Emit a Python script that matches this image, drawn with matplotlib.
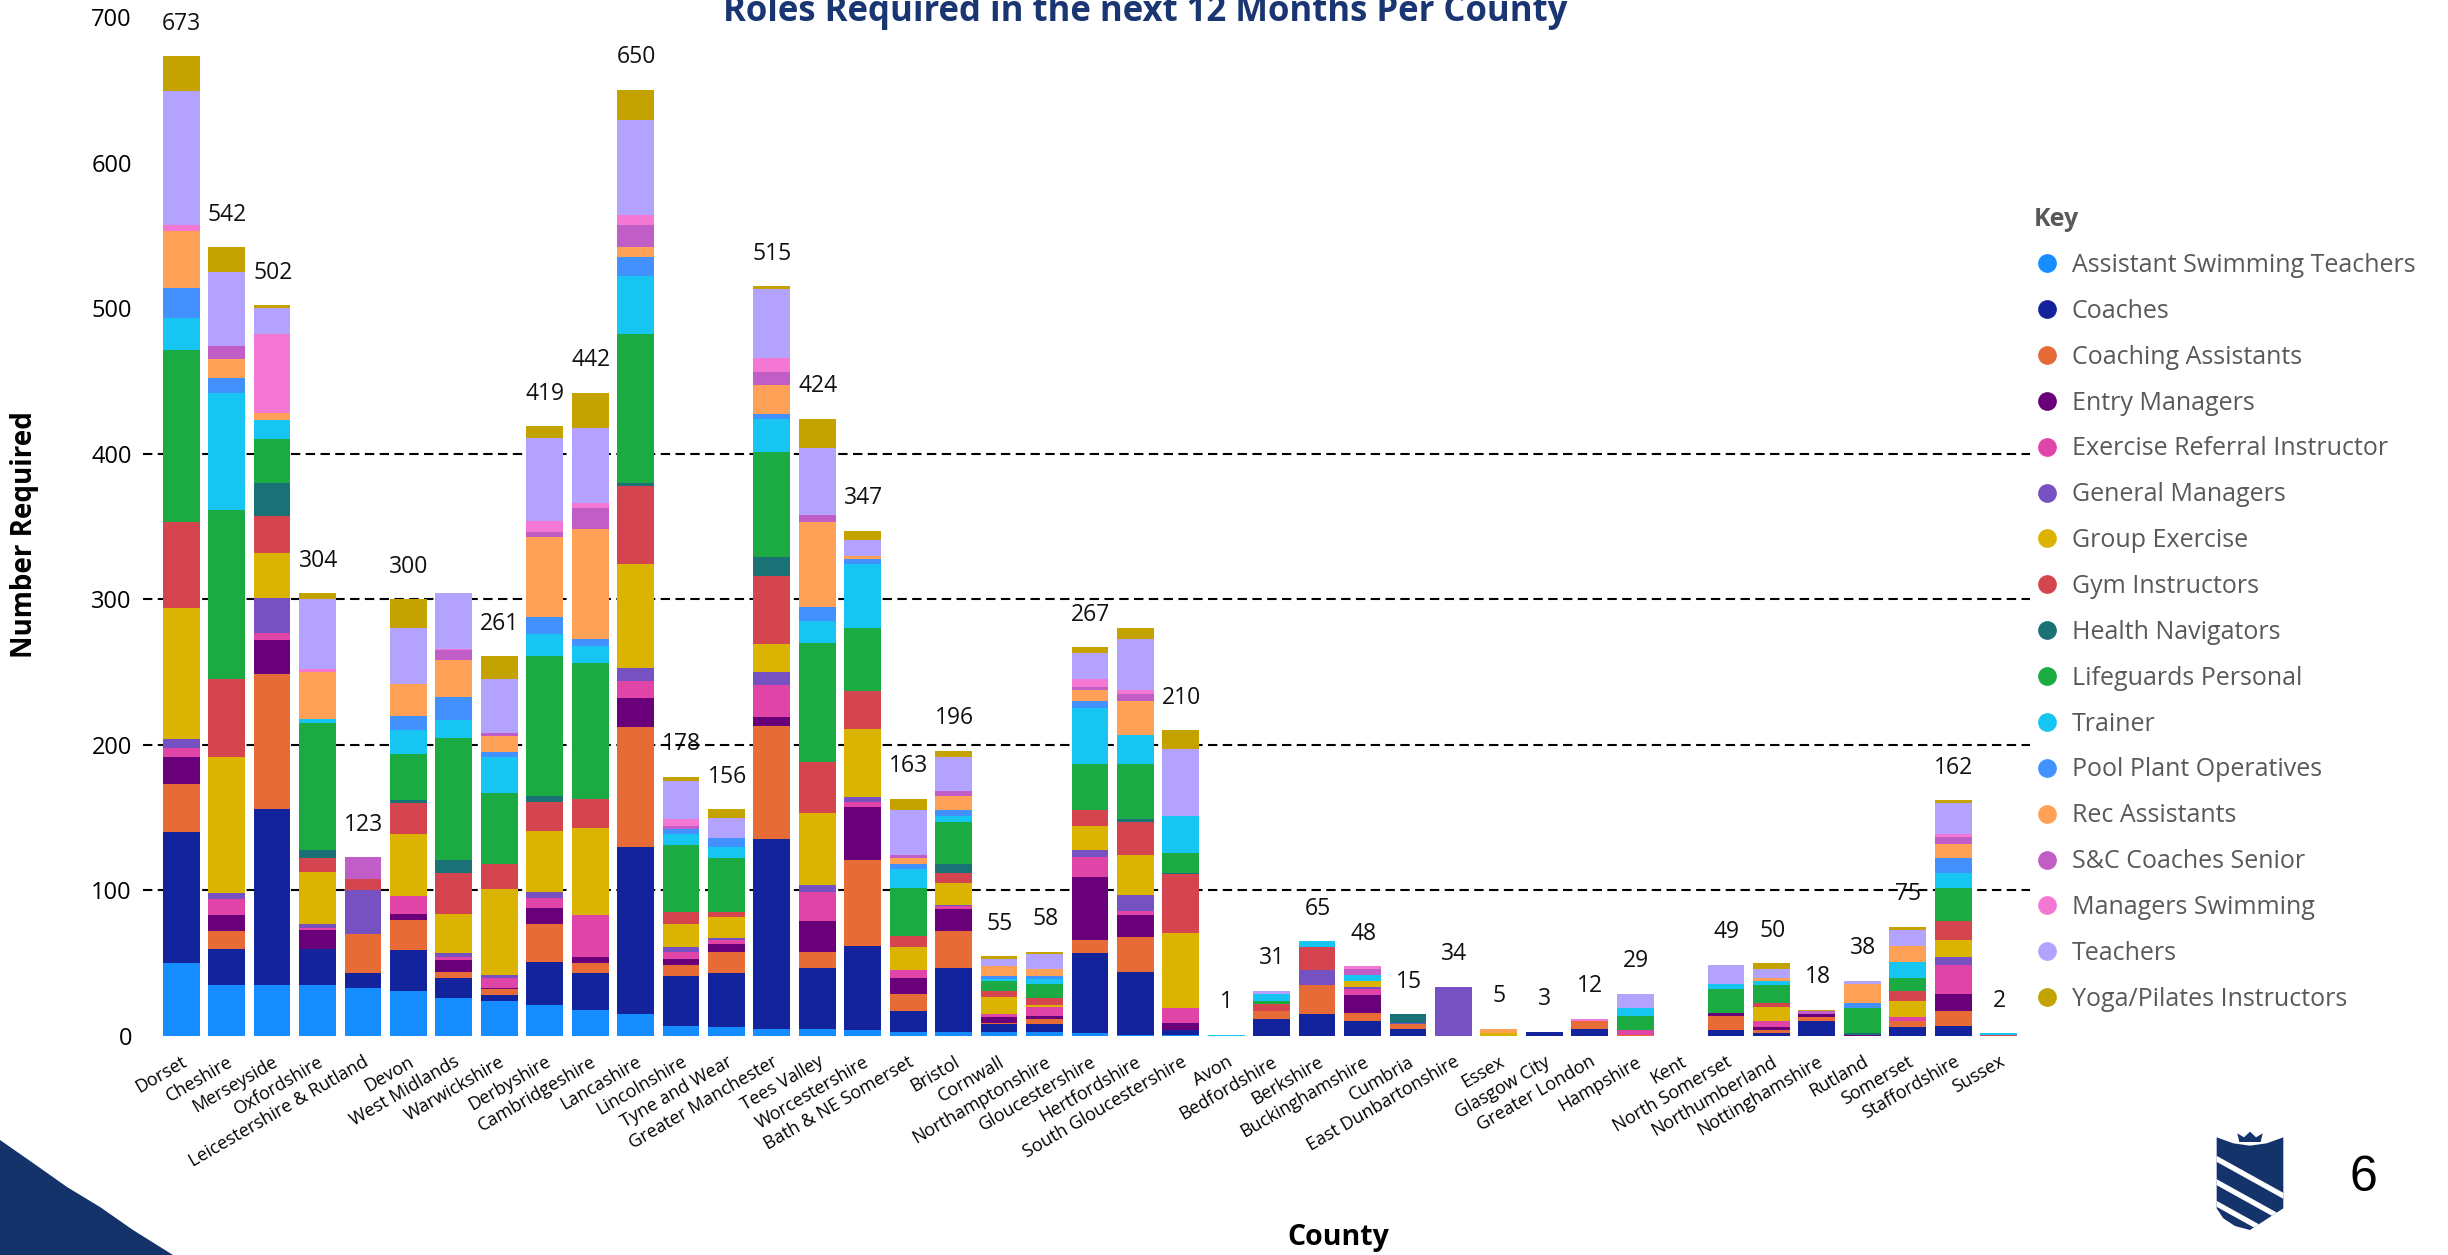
import matplotlib
matplotlib.use("Agg")
import matplotlib.pyplot as plt
import numpy as np
from matplotlib.lines import Line2D
from matplotlib.patches import Polygon, PathPatch
from matplotlib.path import Path

plt.rcParams['font.family'] = ['Open Sans', 'DejaVu Sans']

W, H = 2448, 1255

counties = ["Dorset", "Cheshire", "Merseyside", "Oxfordshire", "Leicestershire & Rutland",
            "Devon", "West Midlands", "Warwickshire", "Derbyshire", "Cambridgeshire",
            "Lancashire", "Lincolnshire", "Tyne and Wear", "Greater Manchester", "Tees Valley",
            "Worcestershire", "Bath & NE Somerset", "Bristol", "Cornwall", "Northamptonshire",
            "Gloucestershire", "Hertfordshire", "South Gloucestershire", "Avon", "Bedfordshire",
            "Berkshire", "Buckinghamshire", "Cumbria", "East Dunbartonshire", "Essex",
            "Glasgow City", "Greater London", "Hampshire", "Kent", "North Somerset",
            "Northumberland", "Nottinghamshire", "Rutland", "Somerset", "Staffordshire",
            "Sussex"]

# roles required per county, one list per role (same order as counties)
assistant_swim_teachers = [50, 35, 35, 35, 33, 31, 26, 24, 21, 18,
                           15, 7, 6, 5, 5, 4, 3, 3, 3, 3,
                           2, 1, 1, 0, 0, 0, 0, 0, 0, 0,
                           0, 0, 0, 0, 0, 0, 0, 0, 0, 0,
                           0]
coaches = [90, 25, 121, 25, 10, 28, 14, 4, 30, 25,
           115, 34, 37, 130, 42, 58, 14, 44, 5, 5,
           55, 43, 3, 0, 12, 15, 10, 5, 0, 0,
           3, 5, 0, 0, 4, 2, 10, 0, 6, 7,
           0]
coaching_assistants = [33, 12, 93, 0, 27, 21, 4, 4, 26, 7,
                       82, 8, 15, 78, 11, 59, 12, 25, 1, 4,
                       9, 24, 0, 0, 5, 20, 6, 3, 0, 0,
                       0, 5, 1, 0, 10, 2, 3, 0, 4, 10,
                       0]
entry_managers = [19, 11, 23, 13, 0, 4, 8, 1, 11, 4,
                  20, 4, 5, 6, 21, 36, 11, 15, 4, 2,
                  43, 15, 5, 0, 0, 0, 12, 0, 0, 0,
                  0, 0, 0, 0, 2, 2, 2, 1, 0, 12,
                  0]
exercise_referral = [6, 11, 5, 1, 0, 12, 2, 7, 7, 29,
                     12, 5, 3, 22, 20, 4, 5, 2, 2, 6,
                     14, 3, 10, 0, 0, 0, 4, 0, 0, 0,
                     0, 0, 3, 0, 0, 4, 0, 0, 3, 20,
                     0]
general_managers = [6, 4, 24, 3, 30, 0, 3, 2, 4, 0,
                    9, 3, 1, 9, 5, 3, 0, 1, 0, 0,
                    5, 11, 0, 0, 0, 10, 2, 1, 34, 0,
                    0, 0, 0, 0, 0, 0, 0, 0, 0, 5,
                    0]
group_exercise = [90, 94, 31, 36, 0, 43, 27, 59, 42, 60,
                  71, 16, 15, 19, 49, 47, 16, 15, 12, 1,
                  16, 27, 52, 0, 0, 0, 4, 0, 0, 2,
                  0, 0, 0, 0, 0, 10, 0, 0, 11, 12,
                  0]
gym_instructors = [59, 53, 25, 9, 8, 21, 28, 17, 20, 20,
                   54, 8, 3, 47, 35, 26, 8, 7, 4, 5,
                   11, 23, 40, 0, 5, 16, 0, 0, 0, 0,
                   0, 0, 0, 0, 0, 3, 0, 0, 7, 13,
                   1]
health_navigators = [0, 0, 23, 6, 0, 2, 9, 0, 4, 0,
                     2, 0, 0, 13, 0, 0, 0, 6, 0, 0,
                     0, 2, 1, 0, 0, 0, 0, 6, 0, 0,
                     0, 0, 0, 0, 0, 0, 0, 1, 0, 0,
                     0]
lifeguards = [118, 116, 30, 87, 0, 32, 84, 49, 96, 93,
              102, 46, 37, 72, 82, 43, 33, 29, 7, 10,
              32, 38, 14, 0, 2, 0, 0, 0, 0, 0,
              0, 0, 10, 0, 16, 12, 0, 17, 9, 23,
              0]
trainer = [22, 81, 13, 3, 0, 16, 12, 25, 15, 12,
           40, 8, 8, 23, 15, 44, 13, 4, 1, 3,
           38, 20, 25, 1, 5, 4, 4, 0, 0, 0,
           0, 0, 5, 0, 4, 3, 0, 0, 11, 10,
           1]
pool_plant = [21, 10, 0, 0, 0, 10, 16, 3, 12, 5,
              13, 3, 6, 3, 10, 4, 3, 4, 2, 2,
              5, 0, 0, 0, 0, 0, 0, 0, 0, 0,
              0, 0, 0, 0, 0, 0, 0, 4, 0, 10,
              0]
rec_assistants = [39, 13, 5, 32, 0, 22, 25, 11, 55, 75,
                  7, 0, 0, 20, 58, 2, 4, 10, 7, 5,
                  8, 23, 0, 0, 0, 0, 0, 0, 0, 3,
                  0, 0, 0, 0, 0, 2, 0, 13, 11, 10,
                  0]
snc_coaches = [0, 9, 0, 0, 15, 0, 7, 2, 3, 15,
               15, 2, 0, 9, 5, 0, 2, 3, 0, 0,
               2, 5, 0, 0, 0, 0, 4, 0, 0, 0,
               0, 0, 0, 0, 0, 0, 2, 0, 0, 5,
               0]
managers_swimming = [4, 0, 54, 2, 0, 0, 1, 0, 8, 3,
                     7, 5, 0, 10, 0, 0, 0, 0, 0, 0,
                     5, 3, 0, 0, 0, 0, 2, 0, 0, 0,
                     0, 2, 0, 0, 0, 0, 0, 0, 0, 2,
                     0]
teachers = [92, 51, 18, 48, 0, 38, 38, 37, 57, 52,
            65, 26, 14, 47, 46, 11, 31, 24, 5, 10,
            18, 35, 46, 0, 2, 0, 0, 0, 0, 0,
            0, 0, 10, 0, 13, 6, 0, 2, 11, 21,
            0]
yoga_pilates = [24, 17, 2, 4, 0, 20, 0, 16, 8, 24,
                21, 3, 6, 2, 20, 6, 8, 4, 2, 2,
                4, 7, 13, 0, 0, 0, 0, 0, 0, 0,
                0, 0, 0, 0, 0, 4, 1, 0, 2, 2,
                0]

roles = [
    ("Assistant Swimming Teachers", assistant_swim_teachers, "#158cff"),
    ("Coaches", coaches, "#13239b"),
    ("Coaching Assistants", coaching_assistants, "#e66b37"),
    ("Entry Managers", entry_managers, "#6a0079"),
    ("Exercise Referral Instructor", exercise_referral, "#e044a6"),
    ("General Managers", general_managers, "#7551c1"),
    ("Group Exercise", group_exercise, "#dab400"),
    ("Gym Instructors", gym_instructors, "#d4454f"),
    ("Health Navigators", health_navigators, "#1a7277"),
    ("Lifeguards Personal", lifeguards, "#1bab42"),
    ("Trainer", trainer, "#17c5f3"),
    ("Pool Plant Operatives", pool_plant, "#4291ff"),
    ("Rec Assistants", rec_assistants, "#ffa057"),
    ("S&C Coaches Senior", snc_coaches, "#c05dc6"),
    ("Managers Swimming", managers_swimming, "#f577d4"),
    ("Teachers", teachers, "#b3a2fe"),
    ("Yoga/Pilates Instructors", yoga_pilates, "#c4a200"),
]

# totals with no label on the slide
unlabelled = {"West Midlands", "Hertfordshire", "Kent"}
grid_levels = [100, 200, 300, 400]


def fig_xy(px, py):
    return px / W, 1 - py / H


fig = plt.figure(figsize=(W / 100, H / 100), dpi=100)
ax = fig.add_axes([143 / W, 219 / H, (2030 - 143) / W, (1036.7 - 17.7) / H])

x = np.arange(len(counties))
bottom = np.zeros(len(counties))
for name, vals, color in roles:
    vals = np.array(vals, dtype=float)
    ax.bar(x, vals, width=0.81, bottom=bottom, color=color, linewidth=0, zorder=3)
    bottom += vals

for level in grid_levels:
    ax.axhline(level, color="black", lw=1.5, ls=(0, (4.5, 2.6)), zorder=2)

for i, total in enumerate(bottom):
    if counties[i] in unlabelled:
        continue
    ax.annotate(f"{int(total)}", (x[i], total), xytext=(0.5, 19), textcoords="offset points",
                ha="center", va="baseline", fontsize=16.5, color="#111111", zorder=1)

ax.set_xlim(-0.84, 40.69)
ax.set_ylim(0, 700)
ax.set_yticks(range(0, 701, 100))
ax.tick_params(axis="y", length=0, labelsize=17, pad=8)
ax.set_xticks(x, counties, rotation=30, ha="right", rotation_mode="anchor", fontsize=13)
ax.tick_params(axis="x", length=0, pad=12)
for spine in ax.spines.values():
    spine.set_visible(False)

handles = [Line2D([], [], marker="o", linestyle="none", markersize=13.5,
                  markerfacecolor=c, markeredgewidth=0) for _, _, c in roles]
leg = ax.legend(handles, [n for n, _, _ in roles], loc="upper left",
                bbox_to_anchor=fig_xy(2034, 207), bbox_transform=fig.transFigure,
                frameon=False, fontsize=18, title="Key",
                title_fontproperties={"weight": "bold", "size": 18},
                alignment="left", labelspacing=0.835, handlelength=1.0,
                handletextpad=0.5, borderpad=0, borderaxespad=0)
for t in leg.get_texts():
    t.set_color("#595959")
leg.get_title().set_color("#595959")

fig.text(*fig_xy(1145, 20.7), "Roles Required in the next 12 Months Per County",
         ha="center", va="baseline", fontsize=25, fontweight="bold", color="#1a3672")
fig.text(*fig_xy(25, 535), "Number Required", rotation=90, ha="center", va="center",
         fontsize=20, fontweight="bold")
fig.text(*fig_xy(1338, 1238), "County", ha="center", va="center", fontsize=20.5,
         fontweight="bold")

navy = "#15336b"
# swoosh in the bottom-left corner
swoosh = [(-5, 1138), (0, 1140), (33, 1163), (67, 1187), (100, 1207), (133, 1230),
          (173, 1255), (180, 1262), (-5, 1262)]
fig.add_artist(Polygon([fig_xy(px, py) for px, py in swoosh], closed=True,
                       transform=fig.transFigure, facecolor=navy, edgecolor="none"))


# shield logo, sketched in a 3x local grid
def logo_xy(zx, zy):
    return fig_xy(2150 + zx / 3, 1080 + zy / 3)


shield_pts = [(200, 172), (250, 190), (300, 197), (350, 190), (400, 172), (400, 385),
              (300, 450), (255, 438), (220, 415), (200, 385)]
shield_path = Path([logo_xy(*p) for p in shield_pts] + [logo_xy(*shield_pts[0])], closed=True)
shield = PathPatch(shield_path, transform=fig.transFigure, facecolor=navy, edgecolor="none")
fig.add_artist(shield)
for y0 in (222, 292, 357):
    stripe = Polygon([logo_xy(190, y0), logo_xy(410, y0 + 122), logo_xy(410, y0 + 140),
                      logo_xy(190, y0 + 18)], closed=True, transform=fig.transFigure,
                     facecolor="white", edgecolor="none")
    fig.add_artist(stripe)
    stripe.set_clip_path(shield)
crown = [(268, 186), (262, 160), (282, 172), (300, 155), (318, 172), (338, 160), (332, 186)]
fig.add_artist(Polygon([logo_xy(*p) for p in crown], closed=True, transform=fig.transFigure,
                       facecolor=navy, edgecolor="none"))

fig.text(*fig_xy(2363, 1178), "6", ha="center", va="center", fontsize=36,
         family="Liberation Sans", color="black")

fig.savefig("out.png", dpi=100)
